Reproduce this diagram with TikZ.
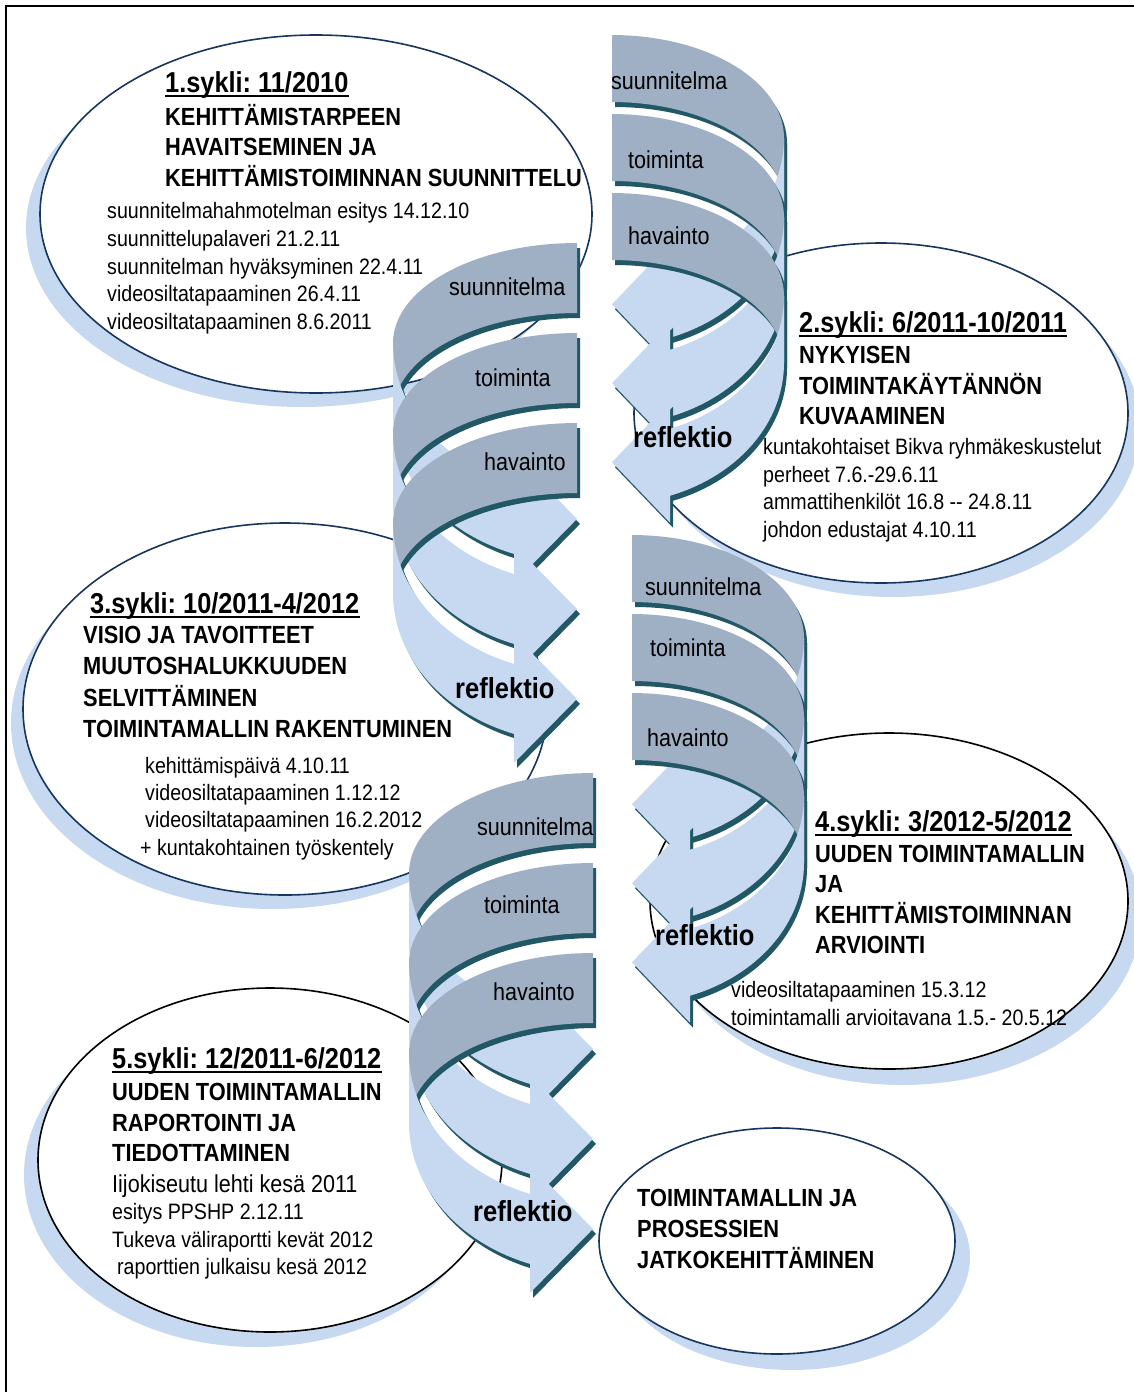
\documentclass[tikz,border=0pt]{standalone}
\usepackage{fontspec}
\setmainfont{Liberation Sans}[FakeStretch=0.88]
\usetikzlibrary{shapes.geometric}
\definecolor{bandback}{RGB}{160,176,196}
\definecolor{bandfront}{RGB}{198,217,241}
\definecolor{bandshadow}{RGB}{34,88,102}
\definecolor{rimnavy}{RGB}{23,54,93}
\definecolor{hazeblue}{RGB}{198,217,241}
\frenchspacing

% One folded band: tail at x0, fold at x0+s*W, head returning to x0.
% #1 x0, #2 top, #3 side (+1 right, -1 left), #4 W, #5 thickness,
% #6 back radius, #7 front radius, #8 head length, #9 barb overhang
\newcommand{\backshape}[1]{%
  \fill[#1] (\pX,\pT)
    -- plot[domain=-90:0,samples=36] ({\pX+(\pS)*\pW*cos(\x)},{\pT+\pB+\pB*sin(\x)})
    -- plot[domain=0:-90,samples=36] ({\pX+(\pS)*\pW*cos(\x)},{\pT+\pB+\pH+\pB*sin(\x)})
    -- cycle;}
\newcommand{\frontshape}[1]{%
  \fill[#1] ({\sxR},{\pT+\pB})
    -- plot[domain=0:\sae,samples=36] ({\pX+(\pS)*\pW*cos(\x)},{\pT+\pB+\pH+\pF*sin(\x)})
    -- ({\sxH},{\syO+\pD}) -- ({\pX},{\syM}) -- ({\sxH},{\syI-\pD})
    -- plot[domain=\sae:0,samples=36] ({\pX+(\pS)*\pW*cos(\x)},{\pT+\pB+\pF*sin(\x)})
    -- cycle;}
\newcommand{\spiralarrow}[9]{%
  \def\pX{#1}\def\pT{#2}\def\pS{#3}\def\pW{#4}\def\pH{#5}%
  \def\pB{#6}\def\pF{#7}\def\pI{#8}\def\pD{#9}%
  \pgfmathsetmacro{\sae}{acos(#8/#4)}%
  \pgfmathsetmacro{\syI}{#2+#6+#7*sin(\sae)}%
  \pgfmathsetmacro{\syO}{\syI+#5}%
  \pgfmathsetmacro{\syM}{\syI+#5/2}%
  \pgfmathsetmacro{\sxH}{#1+(#3)*#8}%
  \pgfmathsetmacro{\sxR}{#1+(#3)*#4}%
  \backshape{bandshadow,shift={(3,5)}}%
  \frontshape{bandshadow,shift={(3,5)}}%
  \backshape{bandback}%
  \frontshape{bandfront}%
}

\begin{document}
\begin{tikzpicture}[x=1pt,y=-1pt,
  rim/.style={ellipse,draw=rimnavy,line width=1.6pt,fill=white,inner sep=0pt},
  rimdark/.style={rim,draw=black},
  txt/.style={inner sep=0pt,anchor=base west,text=black},
  ttl/.style={txt,font=\fontsize{28.8}{30}\selectfont\bfseries},
  hd/.style={txt,font=\fontsize{24.8}{28}\selectfont\bfseries},
  bd/.style={txt,font=\fontsize{22.3}{26}\selectfont},
  bdbig/.style={txt,font=\fontsize{24.5}{28}\selectfont},
  lbl/.style={txt,font=\fontsize{24.5}{28}\selectfont},
  rfl/.style={txt,font=\fontsize{29}{32}\selectfont\bfseries},
  rule/.style={line width=2.2pt,black}]
\useasboundingbox (0,0) rectangle (1134,1392);

% frame
\draw[line width=1.4pt] (6,1392) -- (6,6);
\draw[line width=2.2pt] (5,6) -- (1134,6);

% ellipse shadows
\fill[hazeblue] (302,228) ellipse [x radius=276,y radius=179];
\fill[hazeblue] (893,427) ellipse [x radius=247,y radius=170];
\fill[hazeblue] (273,723) ellipse [x radius=262,y radius=186];
\fill[hazeblue] (902,917) ellipse [x radius=239,y radius=168];
\fill[hazeblue] (256,1175) ellipse [x radius=232,y radius=172];
\fill[hazeblue] (792,1257) ellipse [x radius=178,y radius=113];

% ellipses
\node[rim,minimum width=552pt,minimum height=358pt] (c1) at (316,214) {};
\node[rim,minimum width=494pt,minimum height=340pt] (c2) at (881,413) {};
\node[rim,minimum width=524pt,minimum height=372pt] (c3) at (285,709) {};
\node[rimdark,minimum width=478pt,minimum height=336pt] (c4) at (889,901) {};
\node[rimdark,minimum width=464pt,minimum height=344pt] (c5) at (270,1160) {};
\node[rim,minimum width=356pt,minimum height=226pt] (c6) at (777,1241) {};

% folded cycle bands
\spiralarrow{612}{35}{1}{172}{67}{103}{141}{58}{27}
\spiralarrow{612}{114}{1}{172}{67}{103}{141}{58}{27}
\spiralarrow{612}{193}{1}{172}{67}{103}{141}{58}{27}

\spiralarrow{577}{243}{-1}{184}{70}{100}{150}{63}{29}
\spiralarrow{577}{333}{-1}{184}{70}{100}{150}{63}{29}
\spiralarrow{577}{423}{-1}{184}{70}{100}{150}{63}{29}

\spiralarrow{632}{535}{1}{172}{67}{103}{141}{58}{27}
\spiralarrow{632}{614}{1}{172}{67}{103}{141}{58}{27}
\spiralarrow{632}{693}{1}{172}{67}{103}{141}{58}{27}

\spiralarrow{593}{773}{-1}{184}{70}{100}{150}{63}{29}
\spiralarrow{593}{863}{-1}{184}{70}{100}{150}{63}{29}
\spiralarrow{593}{953}{-1}{184}{70}{100}{150}{63}{29}

% band labels
\node[lbl] (a1) at (611,89) {suunnitelma};
\node[lbl] (a2) at (628,168) {toiminta};
\node[lbl] (a3) at (628,244) {havainto};
\node[rfl] (a4) at (633,447) {reflektio};
\node[lbl] (b1) at (449,295) {suunnitelma};
\node[lbl] (b2) at (475,386) {toiminta};
\node[lbl] (b3) at (484,470) {havainto};
\node[rfl] (b4) at (455,698) {reflektio};
\node[lbl] (g1) at (645,595) {suunnitelma};
\node[lbl] (g2) at (650,656) {toiminta};
\node[lbl] (g3) at (647,746) {havainto};
\node[rfl] (g4) at (655,945) {reflektio};
\node[lbl] (d1) at (477,835) {suunnitelma};
\node[lbl] (d2) at (484,913) {toiminta};
\node[lbl] (d3) at (493,1000) {havainto};
\node[rfl] (d4) at (473,1221) {reflektio};

% cycle 1
\node[ttl] (t1) at (165,92) {1.sykli: 11/2010};
\foreach \s/\yy [count=\k] in {KEHITTÄMISTARPEEN/125,HAVAITSEMINEN JA/155,KEHITTÄMISTOIMINNAN SUUNNITTELU/186}
  \node[hd] (h1\k) at (165,\yy) {\s};
\foreach \s/\yy [count=\k] in {suunnitelmahahmotelman esitys 14.12.10/218,suunnittelupalaveri 21.2.11/246,suunnitelman hyväksyminen 22.4.11/274,videosiltatapaaminen 26.4.11/301,videosiltatapaaminen 8.6.2011/329}
  \node[bd] (p1\k) at (107,\yy) {\s};

% cycle 2
\node[ttl] (t2) at (799,332) {2.sykli: 6/2011-10/2011};
\foreach \s/\yy [count=\k] in {NYKYISEN/363,TOIMINTAKÄYTÄNNÖN/394,KUVAAMINEN/424}
  \node[hd] (h2\k) at (799,\yy) {\s};
\foreach \s/\yy [count=\k] in {kuntakohtaiset Bikva ryhmäkeskustelut/454,perheet 7.6.-29.6.11/482,ammattihenkilöt 16.8 -{}- 24.8.11/509,johdon edustajat 4.10.11/537}
  \node[bd] (p2\k) at (763,\yy) {\s};

% cycle 3
\node[ttl] (t3) at (90,613) {3.sykli: 10/2011-4/2012};
\foreach \s/\yy [count=\k] in {VISIO JA TAVOITTEET/643,MUUTOSHALUKKUUDEN/674,SELVITTÄMINEN/706,TOIMINTAMALLIN RAKENTUMINEN/737}
  \node[hd] (h3\k) at (83,\yy) {\s};
\foreach \s/\yy [count=\k] in {kehittämispäivä 4.10.11/773,videosiltatapaaminen 1.12.12/800,videosiltatapaaminen 16.2.2012/827}
  \node[bd] (p3\k) at (145,\yy) {\s};
\node[bd] (p34) at (140,855) {+ kuntakohtainen työskentely};

% cycle 4
\node[ttl] (t4) at (815,831) {4.sykli: 3/2012-5/2012};
\foreach \s/\yy [count=\k] in {UUDEN TOIMINTAMALLIN/862,JA/892,KEHITTÄMISTOIMINNAN/923,ARVIOINTI/953}
  \node[hd] (h4\k) at (815,\yy) {\s};
\foreach \s/\yy [count=\k] in {videosiltatapaaminen 15.3.12/997,toimintamalli arvioitavana 1.5.- 20.5.12/1025}
  \node[bd] (p4\k) at (731,\yy) {\s};

% cycle 5
\node[ttl] (t5) at (112,1068) {5.sykli: 12/2011-6/2012};
\foreach \s/\yy [count=\k] in {UUDEN TOIMINTAMALLIN/1100,RAPORTOINTI JA/1131,TIEDOTTAMINEN/1161}
  \node[hd] (h5\k) at (112,\yy) {\s};
\node[bdbig] (p51) at (112,1192) {Iijokiseutu lehti kesä 2011};
\node[bd] (p52) at (112,1219) {esitys PPSHP 2.12.11};
\node[bd] (p53) at (112,1247) {Tukeva väliraportti kevät 2012};
\node[bd] (p54) at (117,1274) {raporttien julkaisu kesä 2012};

% continuation
\foreach \s/\yy [count=\k] in {TOIMINTAMALLIN JA/1206,PROSESSIEN/1237,JATKOKEHITTÄMINEN/1268}
  \node[hd] (h6\k) at (637,\yy) {\s};

% title rules
\foreach \n in {t1,t2,t3,t4,t5}
  \draw[rule] ([yshift=-4pt]\n.base west) -- ([yshift=-4pt]\n.base east);
\end{tikzpicture}
\end{document}
